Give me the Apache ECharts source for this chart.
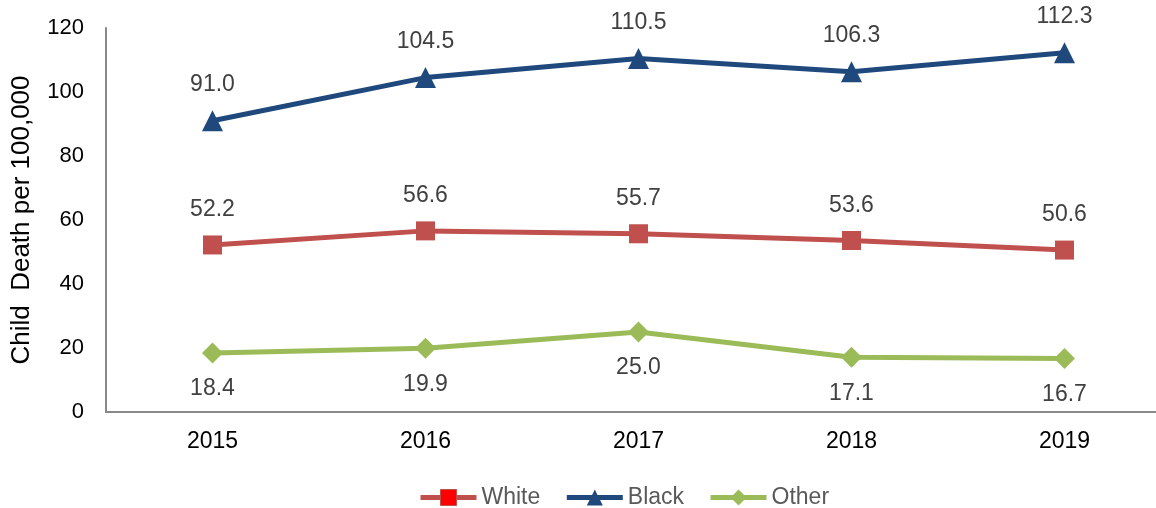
<!DOCTYPE html>
<html>
<head>
<meta charset="utf-8">
<script src="https://cdn.jsdelivr.net/npm/echarts@6/dist/echarts.min.js"></script>
<style>
html, body { margin: 0; padding: 0; background: #fff; }
#chart { width: 1156px; height: 508px; }
</style>
</head>
<body>
<div id="chart"></div>
<script>
// data
var years = ['2015', '2016', '2017', '2018', '2019'];
var white = [52.2, 56.6, 55.7, 53.6, 50.6];
var black = [91.0, 104.5, 110.5, 106.3, 112.3];
var other = [18.4, 19.9, 25.0, 17.1, 16.7];

var chart = echarts.init(document.getElementById('chart'));

var lbl = function (pos) {
	return {
		show: true,
		position: pos,
		distance: 14,
		color: '#404040',
		fontFamily: 'Liberation Sans',
		fontSize: 23,
		formatter: function (p) { return p.value.toFixed(1); }
	};
};

var option = {
	animation: false,
	color: ['#C0504D', '#1F497D', '#9BBB59'],
	grid: { left: 106, right: -15, top: 28, bottom: 96, outerBoundsMode: 'none', containLabel: false },
	legend: {
		bottom: -6,
		left: 413,
		itemWidth: 56,
		itemHeight: 20,
		itemGap: 24,
		lineStyle: { width: 5 },
		textStyle: { color: '#595959', fontFamily: 'Liberation Sans', fontSize: 23 },
		data: [
			{ name: 'White', itemStyle: { color: '#FF0000', borderColor: '#C0504D', borderWidth: 1 } },
			{ name: 'Black' },
			{ name: 'Other' }
		]
	},
	xAxis: {
		type: 'category',
		data: years,
		boundaryGap: true,
		axisLine: { lineStyle: { color: '#898989', width: 2 } },
		axisTick: { show: false },
		axisLabel: { color: '#000', fontFamily: 'Liberation Sans', fontSize: 23, margin: 18 }
	},
	yAxis: {
		type: 'value',
		min: 0,
		max: 120,
		interval: 20,
		name: 'Child  Death per 100,000',
		nameLocation: 'middle',
		nameGap: 71,
		nameTextStyle: { color: '#000', fontFamily: 'Liberation Sans', fontSize: 26 },
		axisLine: { show: true, lineStyle: { color: '#898989', width: 2 } },
		axisTick: { show: false },
		splitLine: { show: false },
		axisLabel: { color: '#000', fontFamily: 'Liberation Sans', fontSize: 22, margin: 22 }
	},
	series: [
		{
			name: 'White', type: 'line', data: white,
			symbol: 'rect', symbolSize: 19,
			lineStyle: { width: 5 },
			label: lbl('top')
		},
		{
			name: 'Black', type: 'line', data: black,
			symbol: 'triangle', symbolSize: 21,
			lineStyle: { width: 5 },
			label: lbl('top')
		},
		{
			name: 'Other', type: 'line', data: other,
			symbol: 'diamond', symbolSize: 21,
			lineStyle: { width: 5 },
			label: lbl('bottom')
		}
	]
};

chart.setOption(option);
</script>
</body>
</html>
